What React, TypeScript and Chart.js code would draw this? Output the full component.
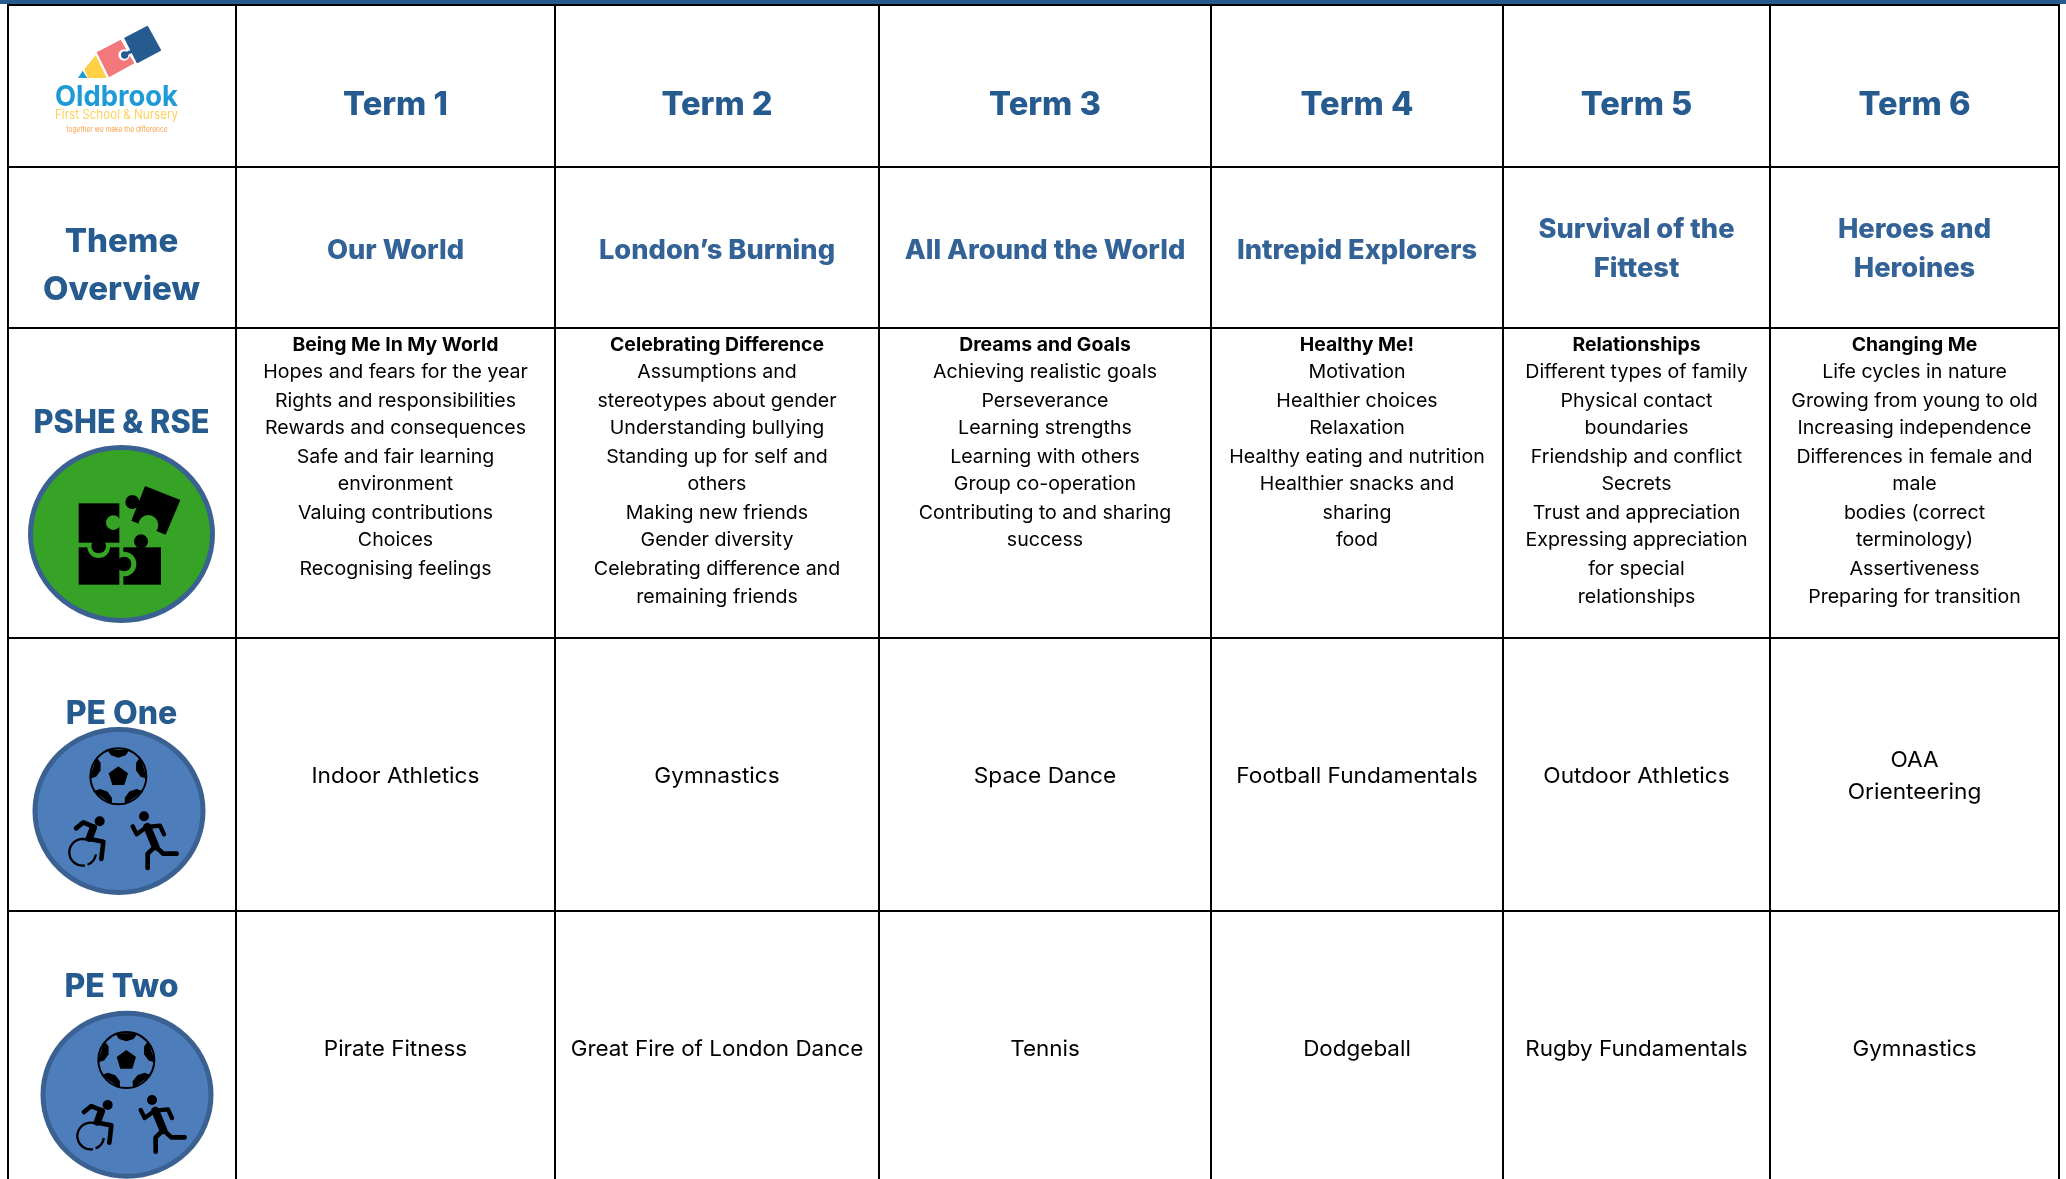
import React, { useEffect, useRef } from "react";
import { Chart, registerables } from "chart.js";

Chart.register(...registerables);

const terms = ["Term 1", "Term 2", "Term 3", "Term 4", "Term 5", "Term 6"];
const themes = [
  ["Our World"],
  ["London’s Burning"],
  ["All Around the World"],
  ["Intrepid Explorers"],
  ["Survival of the", "Fittest"],
  ["Heroes and", "Heroines"],
];
const psheTitles = ["Being Me In My World", "Celebrating Difference", "Dreams and Goals", "Healthy Me!", "Relationships", "Changing Me"];
const psheLines = [
  ["Hopes and fears for the year", "Rights and responsibilities", "Rewards and consequences", "Safe and fair learning", "environment", "Valuing contributions", "Choices", "Recognising feelings"],
  ["Assumptions and", "stereotypes about gender", "Understanding bullying", "Standing up for self and", "others", "Making new friends", "Gender diversity", "Celebrating difference and", "remaining friends"],
  ["Achieving realistic goals", "Perseverance", "Learning strengths", "Learning with others", "Group co-operation", "Contributing to and sharing", "success"],
  ["Motivation", "Healthier choices", "Relaxation", "Healthy eating and nutrition", "Healthier snacks and", "sharing", "food"],
  ["Different types of family", "Physical contact", "boundaries", "Friendship and conflict", "Secrets", "Trust and appreciation", "Expressing appreciation", "for special", "relationships"],
  ["Life cycles in nature", "Growing from young to old", "Increasing independence", "Differences in female and", "male", "bodies (correct", "terminology)", "Assertiveness", "Preparing for transition"],
];
const peOne = [["Indoor Athletics"], ["Gymnastics"], ["Space Dance"], ["Football Fundamentals"], ["Outdoor Athletics"], ["OAA", "Orienteering"]];
const peTwo = [["Pirate Fitness"], ["Great Fire of London Dance"], ["Tennis"], ["Dodgeball"], ["Rugby Fundamentals"], ["Gymnastics"]];
const themeLabel = ["Theme", "Overview"];
const psheLabel = "PSHE & RSE";
const peOneLabel = "PE One";
const peTwoLabel = "PE Two";
const logoName = "Oldbrook";
const logoSchool = "First School & Nursery";
const logoMotto = "together we make the difference";

const colEdges = [8, 236, 555, 879, 1211, 1503, 1770, 2059];
const rowEdges = [5, 167, 328, 638, 911];
const psheRows = [345, 372.5, 401.5, 428, 457, 484.5, 513.5, 540, 569, 597];

const HEAD = "#265B90";
const THEME = "#336297";
const FAMILY = "Inter, 'Noto Sans', sans-serif";

type Ctx = CanvasRenderingContext2D;

function put(ctx: Ctx, text: string, px: number, py: number, font: string, color: string, stretch = 1) {
  ctx.save();
  ctx.translate(px, py);
  ctx.scale(stretch, 1);
  ctx.font = font;
  ctx.fillStyle = color;
  ctx.textAlign = "center";
  ctx.textBaseline = "middle";
  ctx.fillText(text, 0, 0);
  ctx.restore();
}

function fitted(ctx: Ctx, text: string, px: number, py: number, font: string, color: string, width: number) {
  ctx.save();
  ctx.font = font;
  const w = ctx.measureText(text).width;
  ctx.restore();
  put(ctx, text, px, py, font, color, width / w);
}

function poly(ctx: Ctx, pts: number[][]) {
  ctx.beginPath();
  pts.forEach((p, i) => (i ? ctx.lineTo(p[0], p[1]) : ctx.moveTo(p[0], p[1])));
  ctx.closePath();
}

function line(ctx: Ctx, pts: number[][], w: number, color = "#000") {
  ctx.beginPath();
  pts.forEach((p, i) => (i ? ctx.lineTo(p[0], p[1]) : ctx.moveTo(p[0], p[1])));
  ctx.lineWidth = w;
  ctx.lineJoin = "round";
  ctx.lineCap = "round";
  ctx.strokeStyle = color;
  ctx.stroke();
}

function disc(ctx: Ctx, x: number, y: number, r: number, color: string) {
  ctx.beginPath();
  ctx.arc(x, y, r, 0, Math.PI * 2);
  ctx.fillStyle = color;
  ctx.fill();
}

function badge(ctx: Ctx, cx: number, cy: number, rx: number, ry: number, fill: string) {
  ctx.beginPath();
  ctx.ellipse(cx, cy, rx - 2.5, ry - 2.5, 0, 0, Math.PI * 2);
  ctx.fillStyle = fill;
  ctx.fill();
  ctx.lineWidth = 5;
  ctx.strokeStyle = "#3A6191";
  ctx.stroke();
}

function logo(ctx: Ctx) {
  ctx.save();
  ctx.scale(1 / 3, 1 / 3);
  ctx.fillStyle = "#1E9BD7";
  poly(ctx, [[234, 234], [262, 234], [248, 212]]);
  ctx.fill();
  ctx.fillStyle = "#FFCF45";
  poly(ctx, [[253, 208], [287, 165], [320, 234], [264, 234]]);
  ctx.fill();
  ctx.fillStyle = "#F2787C";
  poly(ctx, [[290, 157], [362, 119], [403, 190], [327, 232]]);
  ctx.fill();
  disc(ctx, 372, 165, 17, "#fff");
  line(ctx, [[372, 165], [398, 152]], 18, "#fff");
  ctx.fillStyle = "#265B90";
  ctx.strokeStyle = "#265B90";
  ctx.lineWidth = 6;
  ctx.lineJoin = "round";
  poly(ctx, [[376, 115], [442, 81], [480, 150], [412, 186]]);
  ctx.fill();
  ctx.stroke();
  line(ctx, [[376, 163], [398, 152]], 10, "#265B90");
  disc(ctx, 374, 165, 11, "#265B90");
  ctx.restore();
  fitted(ctx, logoName, 116.5, 97, "700 29px " + FAMILY, "#1E9BD7", 123);
  fitted(ctx, logoSchool, 116.5, 115.5, "400 13px " + FAMILY, "#FFD05C", 123);
  fitted(ctx, logoMotto, 117, 129.5, "400 7.5px " + FAMILY, "#F6A04A", 101);
}

function puzzle(ctx: Ctx) {
  const G = "#36A327";
  const K = "#000";
  ctx.save();
  ctx.translate(0, 400);
  ctx.scale(1 / 3, 1 / 3);
  // lower right piece and the ring cut into it
  ctx.fillStyle = K;
  ctx.fillRect(370, 442, 113, 112);
  disc(ctx, 372, 492, 37, G);
  // lower left piece and the ring cut into it
  ctx.fillStyle = K;
  ctx.fillRect(236, 442, 122, 112);
  disc(ctx, 296, 440, 34, G);
  // upper left piece, its tabs and its notch
  ctx.fillStyle = K;
  ctx.fillRect(236, 310, 122, 118);
  disc(ctx, 296, 438, 22, K);
  disc(ctx, 372, 492, 22, K);
  disc(ctx, 340, 368, 22, G);
  disc(ctx, 423, 424, 21, K);
  // tilted piece
  ctx.fillStyle = K;
  poly(ctx, [[435, 258], [541, 300], [497, 404], [394, 362]]);
  ctx.fill();
  disc(ctx, 397, 306, 21, K);
  disc(ctx, 445, 375, 30, G);
  ctx.restore();
}

function sports(ctx: Ctx, cx: number, cy: number) {
  ctx.save();
  ctx.translate(cx, cy);
  ctx.scale(1 / 3, 1 / 3);
  ctx.translate(-357, -364);
  // ball
  ctx.save();
  ctx.translate(355, 260);
  ctx.beginPath();
  ctx.arc(0, 0, 84, 0, Math.PI * 2);
  ctx.lineWidth = 6;
  ctx.strokeStyle = "#000";
  ctx.stroke();
  ctx.fillStyle = "#000";
  poly(ctx, [[0, -30], [29, -9], [18, 26], [-18, 26], [-29, -9]]);
  ctx.fill();
  for (let i = 0; i < 5; i++) {
    ctx.save();
    ctx.rotate((i * 2 * Math.PI) / 5);
    poly(ctx, [[-34, -80], [34, -80], [22, -63], [0, -56], [-22, -63]]);
    ctx.fill();
    ctx.restore();
  }
  ctx.restore();
  // wheelchair user
  disc(ctx, 299, 395, 15, "#000");
  line(ctx, [[228, 416], [250, 398], [282, 412], [270, 448], [310, 456], [304, 508]], 14);
  line(ctx, [[280, 414], [268, 446]], 22);
  ctx.beginPath();
  ctx.arc(248, 488, 40, 0.15, 1.2);
  ctx.moveTo(248 + 40 * Math.cos(1.4), 488 + 40 * Math.sin(1.4));
  ctx.arc(248, 488, 40, 1.4, 5.1);
  ctx.lineWidth = 7;
  ctx.lineCap = "butt";
  ctx.strokeStyle = "#000";
  ctx.stroke();
  // runner
  disc(ctx, 432, 380, 15, "#000");
  line(ctx, [[398, 410], [410, 434], [440, 412], [480, 408], [492, 434]], 13);
  line(ctx, [[442, 412], [466, 470]], 24);
  line(ctx, [[466, 470], [490, 492], [530, 492]], 14);
  line(ctx, [[466, 470], [443, 492], [443, 535]], 14);
  ctx.restore();
}

const tablePlugin = {
  id: "tableText",
  afterDraw(chart: any) {
    const { ctx, scales } = chart;
    const X = (v: number) => scales.x.getPixelForValue(v);
    const Y = (v: number) => scales.y.getPixelForValue(v);
    const mid = (i: number) => X((colEdges[i + 1] + colEdges[i + 2]) / 2);
    const labelX = X(121.5);

    ctx.save();
    ctx.fillStyle = HEAD;
    ctx.fillRect(0, 0, chart.width, Y(4));

    logo(ctx);

    terms.forEach((t, i) => put(ctx, t, mid(i), Y(105.5), "800 32px " + FAMILY, HEAD, 1.02));
    themes.forEach((lines, i) => {
      const ys = lines.length === 1 ? [250.5] : [229.5, 269];
      lines.forEach((t, j) => put(ctx, t, mid(i), Y(ys[j]), "800 27px " + FAMILY, THEME, 1.01));
    });
    themeLabel.forEach((t, j) => put(ctx, t, labelX, Y([242.5, 290][j]), "800 33px " + FAMILY, HEAD, 1));
    put(ctx, psheLabel, labelX, Y(423), "800 32px " + FAMILY, HEAD, 0.96);
    put(ctx, peOneLabel, labelX, Y(714), "800 32px " + FAMILY, HEAD, 1);
    put(ctx, peTwoLabel, labelX, Y(987), "800 32px " + FAMILY, HEAD, 1);

    psheTitles.forEach((t, i) => {
      put(ctx, t, mid(i), Y(psheRows[0]), "700 19px " + FAMILY, "#000", 1.02);
      psheLines[i].forEach((l, j) => put(ctx, l, mid(i), Y(psheRows[j + 1]), "400 19px " + FAMILY, "#000", 1.03));
    });
    peOne.forEach((lines, i) => {
      const ys = lines.length === 1 ? [776] : [760, 792];
      lines.forEach((t, j) => put(ctx, t, mid(i), Y(ys[j]), "400 22px " + FAMILY, "#000", 1.03));
    });
    peTwo.forEach((lines, i) => put(ctx, lines[0], mid(i), Y(1049), "400 22px " + FAMILY, "#000", 1.02));

    badge(ctx, X(121.5), Y(534), 93.5, 89, "#36A327");
    puzzle(ctx);
    badge(ctx, X(119), Y(811), 86.5, 84, "#4D7EBB");
    sports(ctx, X(119), Y(811));
    badge(ctx, X(127), Y(1094.7), 86.5, 84, "#4D7EBB");
    sports(ctx, X(127), Y(1094.7));
    ctx.restore();
  },
};

export default function App() {
  const ref = useRef<HTMLCanvasElement>(null);
  useEffect(() => {
    document.body.style.margin = "0";
    document.body.style.overflow = "hidden";
    const chart = new Chart(ref.current as HTMLCanvasElement, {
      type: "scatter",
      data: { datasets: [{ data: [], pointRadius: 0 }] },
      plugins: [tablePlugin as any],
      options: {
        animation: false,
        responsive: false,
        maintainAspectRatio: false,
        layout: { padding: { left: 7, right: 6, top: 0, bottom: 0 } },
        plugins: { legend: { display: false }, tooltip: { enabled: false }, title: { display: false } },
        scales: {
          x: {
            type: "linear",
            min: 7,
            max: 2060,
            afterBuildTicks: (s: any) => {
              s.ticks = colEdges.map((value) => ({ value }));
            },
            ticks: { display: false, autoSkip: false },
            border: { display: false },
            grid: { color: "#000", lineWidth: 2, drawTicks: false },
          },
          y: {
            type: "linear",
            reverse: true,
            min: 0,
            max: 1179,
            afterBuildTicks: (s: any) => {
              s.ticks = rowEdges.map((value) => ({ value }));
            },
            ticks: { display: false, autoSkip: false },
            border: { display: false },
            grid: { color: "#000", lineWidth: 2, drawTicks: false },
          },
        },
      },
    } as any);
    return () => chart.destroy();
  }, []);
  return <canvas ref={ref} width={2066} height={1179} style={{ position: "absolute", left: 0, top: 0, display: "block" }} />;
}
